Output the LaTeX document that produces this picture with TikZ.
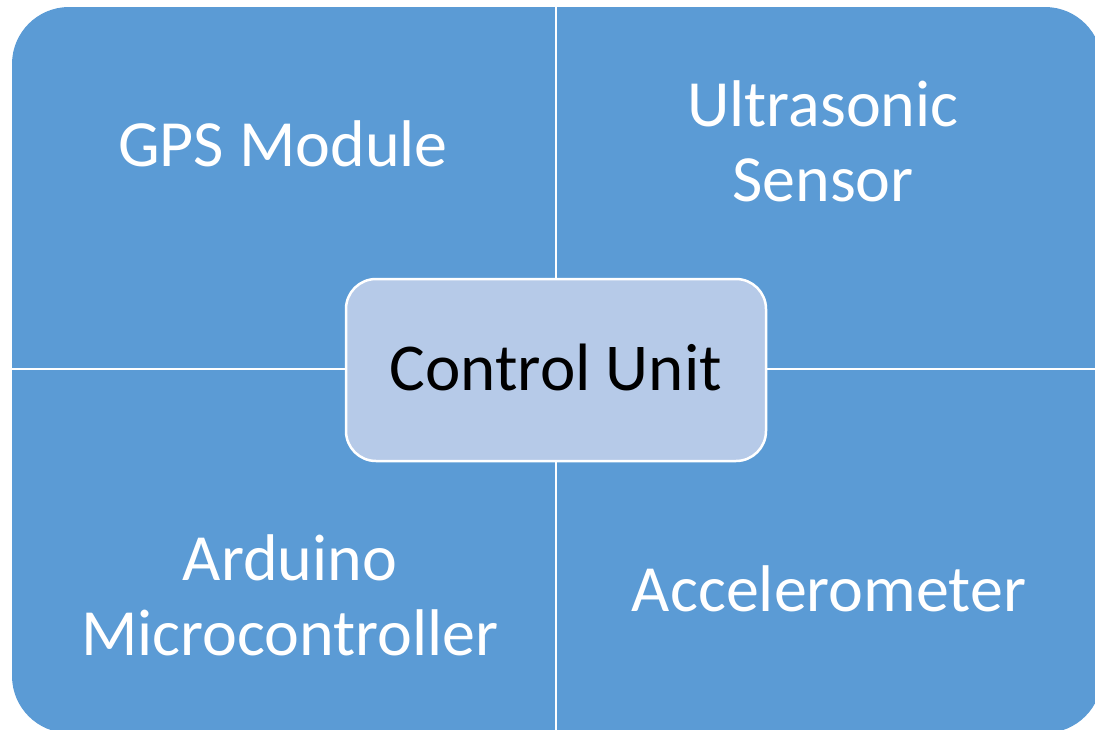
\documentclass[tikz,border=0pt]{standalone}
\usepackage{fontspec}
\setmainfont{Carlito}
\definecolor{quadblue}{HTML}{5B9BD5}
\definecolor{hubfill}{HTML}{B6CAE8}
\tikzset{
  quadtext/.style={text=white, font=\fontsize{66}{75}\selectfont, align=center, anchor=base, inner sep=0pt},
  hubbox/.style={draw=white, line width=2.5pt, fill=hubfill, rounded corners=30pt},
  divider/.style={draw=white, line width=2.2pt},
}
\begin{document}
\begin{tikzpicture}[x=1pt,y=-1pt]
  \useasboundingbox (0,0) rectangle (1095,729);
  \begin{scope}
    \clip (0,0) rectangle (1095,729);
    % matrix background with rounded outer corners
    \fill[quadblue, rounded corners=57pt] (12,7) rectangle (1102,733);
    % quadrant dividers
    \coordinate (vtop) at (556,7);
    \coordinate (vbot) at (556,733);
    \coordinate (hleft) at (12,369);
    \coordinate (hright) at (1102,369);
    \draw[divider] (vtop) -- (vbot);
    \draw[divider] (hleft) -- (hright);
  \end{scope}
  % central hub
  \draw[hubbox] (346,279) rectangle (766,461);
  \node[anchor=base, inner sep=0pt, font=\fontsize{67}{76}\selectfont] (hub) at (556,390) {Control Unit};
  % quadrant labels (base anchor sits on the last line)
  \node[quadtext] (gps) at (283,166) {GPS Module};
  \node[quadtext] (ultra) at (823,201) {Ultrasonic\\Sensor};
  \node[quadtext] (ard) at (290,655) {Arduino\\Microcontroller};
  \node[quadtext] (acc) at (829,611) {Accelerometer};
\end{tikzpicture}
\end{document}
